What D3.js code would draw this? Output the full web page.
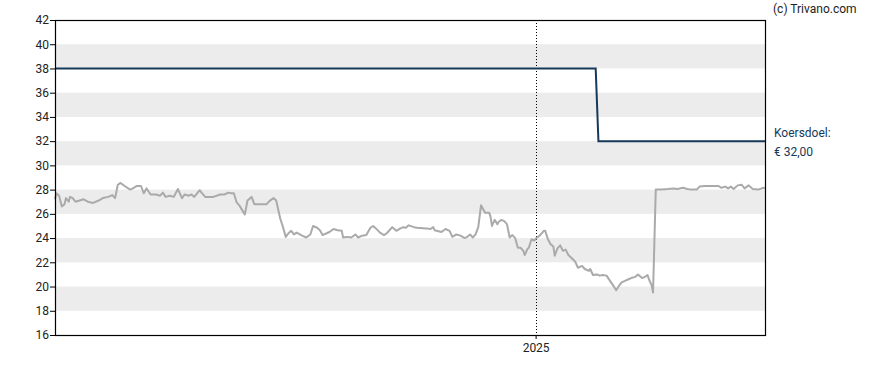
<!DOCTYPE html>
<html>
<head>
<meta charset="utf-8">
<script src="https://cdn.jsdelivr.net/npm/d3@7"></script>
<style>
  body { margin: 0; background: #fff; }
  svg text { font-family: Roboto, "Open Sans", sans-serif; }
</style>
</head>
<body>
<div id="chart"></div>
<script>
'use strict'

// koers (closing price)
const priceDates = [
  '2024-01-15','2024-01-16','2024-01-18','2024-01-20','2024-01-22','2024-01-23','2024-01-25','2024-01-26','2024-01-28','2024-01-30',
  '2024-02-02','2024-02-05','2024-02-08','2024-02-12','2024-02-16','2024-02-19','2024-02-23','2024-02-26','2024-02-28',
  '2024-03-01','2024-03-03','2024-03-06','2024-03-10','2024-03-12','2024-03-15','2024-03-18','2024-03-20','2024-03-22','2024-03-25','2024-03-29',
  '2024-04-01','2024-04-03','2024-04-05','2024-04-08','2024-04-11','2024-04-14','2024-04-17','2024-04-19','2024-04-22','2024-04-24','2024-04-26','2024-04-30',
  '2024-05-01','2024-05-04','2024-05-10','2024-05-15','2024-05-18','2024-05-21','2024-05-23','2024-05-25','2024-05-27','2024-05-29',
  '2024-06-02','2024-06-04','2024-06-07','2024-06-09','2024-06-13','2024-06-18','2024-06-20','2024-06-23','2024-06-25','2024-06-28','2024-06-30',
  '2024-07-02','2024-07-04','2024-07-06','2024-07-08','2024-07-10','2024-07-14','2024-07-17','2024-07-20','2024-07-22','2024-07-25','2024-07-27','2024-07-29',
  '2024-08-01','2024-08-03','2024-08-06','2024-08-09','2024-08-12','2024-08-13','2024-08-16','2024-08-19','2024-08-22','2024-08-24','2024-08-27','2024-08-30',
  '2024-09-02','2024-09-04','2024-09-06','2024-09-09','2024-09-12','2024-09-14','2024-09-18','2024-09-21','2024-09-24','2024-09-26','2024-09-28','2024-09-30',
  '2024-10-04','2024-10-06','2024-10-13','2024-10-16','2024-10-18','2024-10-19','2024-10-24','2024-10-27','2024-10-30',
  '2024-11-01','2024-11-04','2024-11-07','2024-11-10','2024-11-12','2024-11-14','2024-11-16','2024-11-18','2024-11-20','2024-11-22','2024-11-23','2024-11-25','2024-11-28','2024-11-29','2024-11-30',
  '2024-12-02','2024-12-04','2024-12-05','2024-12-07','2024-12-09','2024-12-11','2024-12-13','2024-12-15','2024-12-17','2024-12-19','2024-12-21','2024-12-23','2024-12-24','2024-12-26','2024-12-27','2024-12-29','2024-12-31',
  '2025-01-02','2025-01-04','2025-01-07','2025-01-08','2025-01-10','2025-01-12','2025-01-14','2025-01-15','2025-01-17','2025-01-19','2025-01-21','2025-01-23','2025-01-25','2025-01-27','2025-01-30',
  '2025-02-01','2025-02-04','2025-02-06','2025-02-09','2025-02-10','2025-02-12','2025-02-15','2025-02-17','2025-02-19','2025-02-22','2025-02-24','2025-02-27',
  '2025-03-01','2025-03-03','2025-03-05','2025-03-07','2025-03-10','2025-03-12','2025-03-15','2025-03-17','2025-03-18','2025-03-20','2025-03-22','2025-03-24','2025-03-25','2025-03-27','2025-03-28','2025-03-30',
  '2025-04-03','2025-04-08','2025-04-12','2025-04-15','2025-04-19','2025-04-22','2025-04-25','2025-04-29',
  '2025-05-01','2025-05-05','2025-05-10','2025-05-15','2025-05-17','2025-05-20','2025-05-22','2025-05-24','2025-05-26','2025-05-29',
  '2025-06-01','2025-06-03','2025-06-06','2025-06-09','2025-06-13','2025-06-17','2025-06-18'
]
const priceValues = [
  27.2,27.7,27.5,26.6,26.8,27.3,27.0,27.4,27.3,27.0,
  27.1,27.2,27.0,26.9,27.1,27.3,27.4,27.55,27.3,
  28.4,28.55,28.3,28.0,28.1,28.3,28.3,27.7,28.1,27.6,27.6,
  27.5,27.75,27.4,27.5,27.4,28.05,27.3,27.6,27.5,27.6,27.4,27.95,
  27.8,27.4,27.4,27.6,27.6,27.75,27.7,27.7,26.95,26.7,
  25.95,27.1,27.4,26.8,26.8,26.8,27.05,27.3,27.1,25.6,24.9,
  24.1,24.4,24.6,24.3,24.45,24.2,24.05,24.3,25.0,24.85,24.65,24.25,
  24.4,24.5,24.75,24.65,24.6,24.05,24.1,24.05,24.3,24.05,24.2,24.25,
  24.85,25.0,24.8,24.45,24.25,24.4,24.9,24.6,24.8,24.9,24.85,25.05,
  24.9,24.85,24.8,24.75,24.9,24.65,24.5,24.75,24.6,
  24.1,24.3,24.2,24.0,24.1,24.3,24.05,24.3,24.9,26.7,26.5,26.1,26.1,25.75,25.0,
  25.5,25.15,25.35,25.5,25.4,25.15,24.05,24.25,24.0,23.2,23.2,22.95,22.6,23.1,23.2,23.9,23.8,
  24.05,24.2,24.6,24.6,23.9,23.5,23.3,22.55,23.15,23.4,22.95,23.05,22.6,22.4,22.05,
  21.55,21.7,21.45,21.3,21.45,20.95,21.0,20.9,20.95,20.9,20.55,20.05,
  19.7,20.05,20.35,20.45,20.6,20.7,20.8,21.0,20.9,20.7,20.8,20.95,20.6,20.1,19.5,28.0,
  28.0,28.05,28.1,28.05,28.15,28.05,28.0,28.0,
  28.25,28.3,28.3,28.3,28.15,28.25,28.1,28.25,28.05,28.35,
  28.4,28.1,28.35,28.05,28.0,28.15,28.1
]

// koersdoel (price target)
const targetDates = ['2024-01-15', '2025-02-14', '2025-02-16', '2025-06-18']
const targetValues = [38, 38, 32, 32]

const yTicks = [16, 18, 20, 22, 24, 26, 28, 30, 32, 34, 36, 38, 40, 42]
const bandStarts = [18, 22, 26, 30, 34, 38]
const xTickDates = ['2025-01-01']
const targetLabel = ['Koersdoel:', '€ 32,00']

const width = 888,
    height = 370
const margin = { top: 20, right: 123, bottom: 35, left: 55 }
const innerW = width - margin.left - margin.right,
    innerH = height - margin.top - margin.bottom

const parse = d3.timeParse('%Y-%m-%d')
const price = priceDates.map((d, i) => ({ date: parse(d), value: priceValues[i] }))
const target = targetDates.map((d, i) => ({ date: parse(d), value: targetValues[i] }))

const x = d3.scaleTime()
  .domain([parse('2024-01-15'), parse('2025-06-18')])
  .range([0, innerW])
const y = d3.scaleLinear()
  .domain([16, 42])
  .range([innerH, 0])

const svg = d3.select('#chart').append('svg')
  .attr('width', width)
  .attr('height', height)

const g = svg.append('g')
  .attr('transform', `translate(${margin.left},${margin.top})`)

// grey bands
g.append('g').selectAll('rect')
  .data(bandStarts)
  .enter().append('rect')
  .attr('x', 0)
  .attr('width', innerW)
  .attr('y', d => y(d + 2))
  .attr('height', d => y(d) - y(d + 2))
  .attr('fill', '#ececec')

// dotted year line
g.selectAll('.year-line')
  .data(xTickDates.map(parse))
  .enter().append('line')
  .attr('class', 'year-line')
  .attr('x1', d => Math.round(x(d)) + 0.5)
  .attr('x2', d => Math.round(x(d)) + 0.5)
  .attr('y1', 0)
  .attr('y2', innerH)
  .attr('stroke', '#000')
  .attr('stroke-width', 1)
  .attr('stroke-dasharray', '1,2')

const line = d3.line()
  .x(d => x(d.date))
  .y(d => y(d.value))

g.append('path')
  .datum(price)
  .attr('fill', 'none')
  .attr('stroke', '#aaaaaa')
  .attr('stroke-width', 2)
  .attr('stroke-linejoin', 'round')
  .attr('d', line)

g.append('path')
  .datum(target)
  .attr('fill', 'none')
  .attr('stroke', '#16395a')
  .attr('stroke-width', 2)
  .attr('d', line)

// frame
g.append('rect')
  .attr('x', 0.5)
  .attr('y', 0.5)
  .attr('width', innerW)
  .attr('height', innerH)
  .attr('fill', 'none')
  .attr('stroke', '#000')
  .attr('stroke-width', 1.2)

const yAxis = g.append('g')
  .call(d3.axisLeft(y).tickValues(yTicks).tickSize(5).tickSizeOuter(0))
yAxis.select('.domain').remove()
yAxis.selectAll('text')
  .attr('font-size', 12)
  .attr('fill', '#222')
  .attr('x', -6)
  .attr('font-family', 'Roboto, sans-serif')

const xAxis = g.append('g')
  .attr('transform', `translate(0,${innerH})`)
  .call(d3.axisBottom(x)
    .tickValues(xTickDates.map(parse))
    .tickFormat(d3.timeFormat('%Y'))
    .tickSize(4)
    .tickSizeOuter(0))
xAxis.select('.domain').remove()
xAxis.selectAll('text')
  .attr('font-size', 12)
  .attr('fill', '#222')
  .attr('y', 8)
  .attr('font-family', 'Roboto, sans-serif')

// target label at the right
svg.append('g').selectAll('text')
  .data(targetLabel)
  .enter().append('text')
  .attr('x', margin.left + innerW + 9)
  .attr('y', (d, i) => margin.top + y(32) - 4 + i * 19)
  .attr('font-size', 12)
  .attr('fill', '#16395a')
  .text(d => d)

svg.append('text')
  .attr('x', 773)
  .attr('y', 13)
  .attr('font-size', 12)
  .attr('fill', '#222')
  .text('(c) Trivano.com')
</script>
</body>
</html>
